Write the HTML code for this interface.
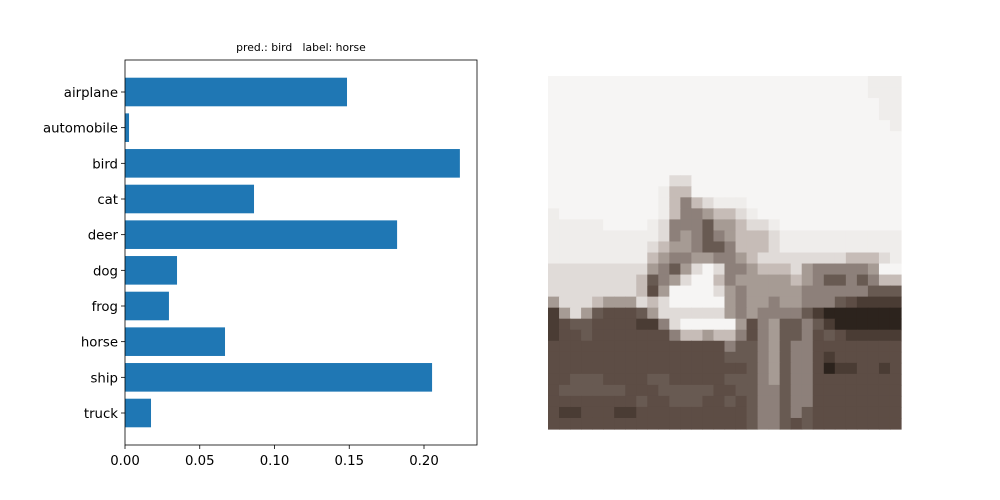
<!DOCTYPE html>
<html><head><meta charset="utf-8"><style>
html,body{margin:0;padding:0;background:#fff;width:1000px;height:500px;overflow:hidden}
text{font-family:"DejaVu Sans","Liberation Sans",sans-serif}
</style></head><body>
<svg id="fig" width="1000" height="500" viewBox="0 0 1000 500" xmlns="http://www.w3.org/2000/svg">
<rect width="1000" height="500" fill="#fff"/>
<g id="bars"></g>
<g id="img"></g>
</svg>
<script>
const categories=["airplane","automobile","bird","cat","deer","dog","frog","horse","ship","truck"];
const probabilities=[0.1485,0.0027,0.224,0.0863,0.182,0.0348,0.0294,0.0669,0.2054,0.0174];
const xTicks=[0,0.05,0.10,0.15,0.20];
const xTickLabels=["0.00","0.05","0.10","0.15","0.20"];
const titleText="pred.: bird\u00a0\u00a0\u00a0label: horse";
const NS="http://www.w3.org/2000/svg";
function mk(t,a,p){const e=document.createElementNS(NS,t);for(const k in a)e.setAttribute(k,a[k]);p.appendChild(e);return e;}
const L=125,R=477,T=60,B=445;
const xs=v=>L+v*1495;
const yc=i=>92+i*(413-92)/9;
const g=document.getElementById('bars');
categories.forEach((c,i)=>{
  const r=mk('rect',{x:xs(0),y:yc(i)-14.3,width:xs(probabilities[i])-xs(0),height:28.6,fill:'#1f77b4'},g);
  
  
  mk('line',{x1:L-4,x2:L,y1:yc(i),y2:yc(i),stroke:'#000','stroke-width':0.8},g);
  const t=mk('text',{x:L-7,y:yc(i)+5,'text-anchor':'end','font-size':13.3,fill:'#000'},g);
  t.textContent=c;
  
  
});
xTicks.forEach((v,i)=>{
  mk('line',{x1:xs(v),x2:xs(v),y1:B,y2:B+4,stroke:'#000','stroke-width':0.8},g);
  const t=mk('text',{x:xs(v),y:B+20,'text-anchor':'middle','font-size':13.3,fill:'#000'},g);
  t.textContent=xTickLabels[i];
  
  
});
const fr=mk('rect',{x:L,y:T,width:R-L,height:B-T,fill:'none',stroke:'#000','stroke-width':0.8},g);


const tt=mk('text',{x:(L+R)/2,y:51,'text-anchor':'middle','font-size':10.8,fill:'#000'},g);
tt.textContent=titleText;



const pal={W:'#f6f5f4',w:'#efedeb',L:'#e0dbd8',l:'#c6bcb7',M:'#a69b94',m:'#8d807a',D:'#685a52',d:'#5d4d45',K:'#4a3c34',X:'#2c231d'};
const rows=[
"WWWWWWWWWWWWWWWWWWWWWWWWWWWWWwww",
"WWWWWWWWWWWWWWWWWWWWWWWWWWWWWwww",
"WWWWWWWWWWWWWWWWWWWWWWWWWWWWWWww",
"WWWWWWWWWWWWWWWWWWWWWWWWWWWWWWww",
"WWWWWWWWWWWWWWWWWWWWWWWWWWWWWWWw",
"WWWWWWWWWWWWWWWWWWWWWWWWWWWWWWWW",
"WWWWWWWWWWWWWWWWWWWWWWWWWWWWWWWW",
"WWWWWWWWWWWWWWWWWWWWWWWWWWWWWWWW",
"WWWWWWWWWWWWWWWWWWWWWWWWWWWWWWWW",
"WWWWWWWWWWWLLWWWWWWWWWWWWWWWWWWW",
"WWWWWWWWWWwllWWWWWWWWWWWWWWWWWWW",
"WWWWWWWWWWwlmlLwwwWWWWWWWWWWWWWW",
"wWWWWWWWWWwlmmMllLwWWWWWWWWWWWWW",
"wwwwwWWWWwLmmmDMMlLLwWWWWWWWWWWW",
"wwwwwwwwwwLmMmDmMlllLwwwwwwwwwww",
"wwwwwwwwwLlMMmDDmlllLwwwwwwwwwww",
"wwwwwwwwwlMmmMMmmMlLLLLLLLLlllLw",
"LLLLLLLLLMmDMLWLmmMlllLMmmmmmMWW",
"LLLLLLLLlDmMLWWlmMMMMMlMmDDmDml",
"LLLLLLLLldMWWWWLMmMMMMMmmmmmmDDD",
"MLLLlMMMLlLWWWWWMmMMmMMmmmDdKKKK",
"KMLMDdddDMLLLLLLMmMmmmmDKXXXXXXX",
"KdDDddddKKmLWWWWWMdmMDDmDKXXXXXX",
"KddDdddddddmllMllmdmMDDmdDdKKKKK",
"ddddddddddddddddmDDmMDmmdddddddd",
"ddddddddddddddddDDDmMDmmdKdddddd",
"ddddddddddddddddddDmMDmmdXKKddKd",
"ddDDDddddDDdddddDDDmMDmmdddddddd",
"dDDDDDDdddDDDDDddDDmmDmmdddddddd",
"ddddddddDddDDDddDdDmmDmmdddddddd",
"dKKdddKKddddddddddDmmDmDdddddddd",
"ddddddddddddddddddDmmDdDdddddddd"];
const gi=document.getElementById('img');
const X0=548,Y0=76,S=353/32;
rows.forEach((row,r)=>{for(let c=0;c<32;c++){const ch=row[c]||row[row.length-1];
  mk('rect',{x:X0+c*S,y:Y0+r*S,width:S+0.6,height:S+0.6,fill:pal[ch]||pal.W},gi);
}});
</script>
</body></html>
